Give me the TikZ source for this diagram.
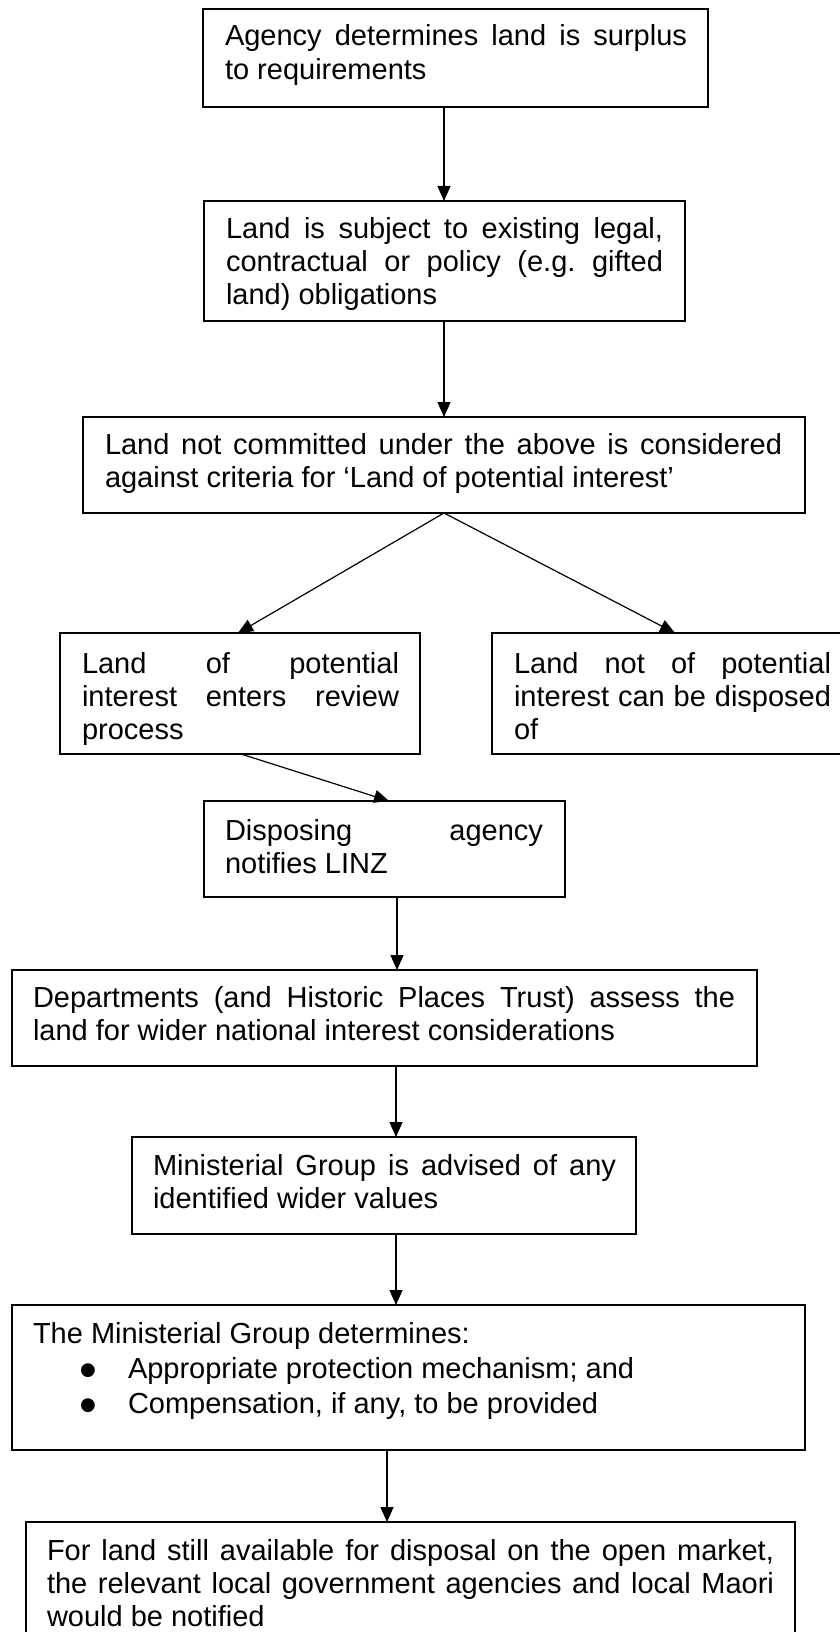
\documentclass[tikz,border=0pt]{standalone}
\usepackage{fontspec}
\setmainfont{Liberation Sans}
\usetikzlibrary{arrows.meta}
% #1 box width, #2 box height, #3 left pad, #4 text width, #5 first baseline, #6 text
\newcommand\tbox[6]{\vbox to #2{\kern#5\hbox to #1{\kern#3\raisebox{0pt}[0pt][0pt]{\begin{minipage}[t]{#4}\fontsize{29pt}{33.4pt}\selectfont\frenchspacing\parindent=0pt\hyphenpenalty=10000\exhyphenpenalty=10000\tolerance=10000\hbadness=10000 #6\end{minipage}}\hss}\vss}}
\newcommand\bigbullet{\makebox[49pt][l]{\raisebox{-9pt}[0pt][0pt]{\scalebox{1.75}{•}}}}
\tikzset{
  box/.style={draw, line width=1.6pt, inner sep=0pt, outer sep=0pt, anchor=north west},
  arr/.style={-{Triangle[length=15pt,width=13pt]}, line width=1.2pt}
}
\begin{document}
\begin{tikzpicture}[x=1pt,y=-1pt]
\useasboundingbox (0,0) rectangle (840,1632);
\clip (0,0) rectangle (840,1632);
\fill[white] (0,0) rectangle (840,1632);

\node[box] (b1) at (203,9) {\tbox{505pt}{98pt}{22pt}{462pt}{37pt}{Agency determines land is surplus\linebreak to requirements}};
\node[box] (b2) at (204,201) {\tbox{481pt}{120pt}{22pt}{437pt}{37pt}{Land is subject to existing legal,\linebreak contractual or policy (e.g. gifted\linebreak land) obligations}};
\node[box] (b3) at (83,417) {\tbox{722pt}{96pt}{22pt}{677pt}{37pt}{Land not committed under the above is considered\linebreak against criteria for ‘Land of potential interest’}};
\node[box] (b4) at (60,633) {\tbox{360pt}{121pt}{22pt}{317pt}{40pt}{Land of potential\linebreak interest enters review\linebreak process}};
\node[box] (b5) at (492,633) {\tbox{360pt}{121pt}{22pt}{317pt}{40pt}{Land not of potential\linebreak interest can be disposed\linebreak of}};
\node[box] (b6) at (204,801) {\tbox{361pt}{96pt}{21pt}{318pt}{39pt}{Disposing agency\linebreak notifies LINZ}};
\node[box] (b7) at (12,970) {\tbox{745pt}{96pt}{21pt}{702pt}{37pt}{Departments (and Historic Places Trust) assess the\linebreak land for wider national interest considerations}};
\node[box] (b8) at (132,1137) {\tbox{504pt}{97pt}{21pt}{463pt}{38pt}{Ministerial Group is advised of any\linebreak identified wider values}};
\node[box] (b9) at (12,1305) {\tbox{793pt}{145pt}{21pt}{750pt}{38pt}{\baselineskip=35pt The Ministerial Group determines:\\
\hspace*{46pt}\bigbullet Appropriate protection mechanism; and\\
\hspace*{46pt}\bigbullet Compensation, if any, to be provided}};
\node[box] (b10) at (26,1522) {\tbox{769pt}{130pt}{21pt}{727pt}{38pt}{For land still available for disposal on the open market,\linebreak the relevant local government agencies and local Maori\linebreak would be notified}};

\draw[arr] (444,0 |- b1.south) -- (444,0 |- b2.north);
\draw[arr] (444,0 |- b2.south) -- (444,0 |- b3.north);
\draw[arr] (b3.south) -- (238,0 |- b4.north);
\draw[arr] (b3.south) -- (675,0 |- b5.north);
\draw[arr] (241,0 |- b4.south) -- (389,0 |- b6.north);
\draw[arr] (397,0 |- b6.south) -- (397,0 |- b7.north);
\draw[arr] (396,0 |- b7.south) -- (396,0 |- b8.north);
\draw[arr] (396,0 |- b8.south) -- (396,0 |- b9.north);
\draw[arr] (387,0 |- b9.south) -- (387,0 |- b10.north);
\end{tikzpicture}
\end{document}
